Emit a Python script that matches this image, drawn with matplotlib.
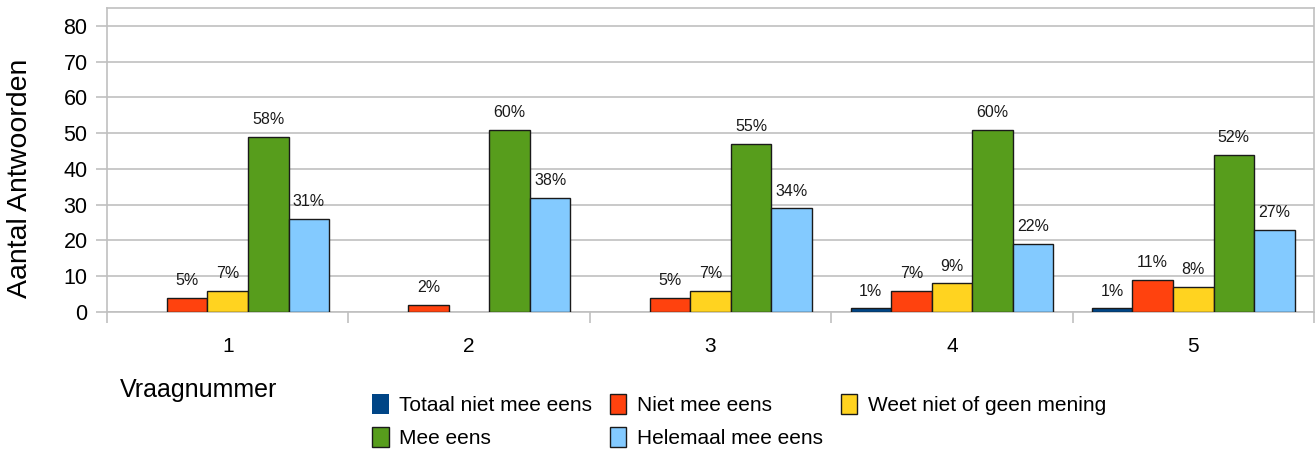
import matplotlib
matplotlib.use("Agg")
import matplotlib.pyplot as plt
import numpy as np

plt.rcParams['font.family'] = ['Liberation Sans', 'DejaVu Sans']

vragen = ['1', '2', '3', '4', '5']
reeksen = ['Totaal niet mee eens', 'Niet mee eens', 'Weet niet of geen mening',
           'Mee eens', 'Helemaal mee eens']
kleuren = ['#004586', '#ff420e', '#ffd320', '#579d1c', '#83caff']

totaal_niet = [0, 0, 0, 1, 1]
niet = [4, 2, 4, 6, 9]
weet_niet = [6, 0, 6, 8, 7]
mee = [49, 51, 47, 51, 44]
helemaal = [26, 32, 29, 19, 23]

pct_totaal_niet = ['', '', '', '1%', '1%']
pct_niet = ['5%', '2%', '5%', '7%', '11%']
pct_weet_niet = ['7%', '', '7%', '9%', '8%']
pct_mee = ['58%', '60%', '55%', '60%', '52%']
pct_helemaal = ['31%', '38%', '34%', '22%', '27%']

waarden = [totaal_niet, niet, weet_niet, mee, helemaal]
labels = [pct_totaal_niet, pct_niet, pct_weet_niet, pct_mee, pct_helemaal]

fig = plt.figure(figsize=(13.16, 4.5), dpi=100)
ax = fig.add_axes([107/1316, 1 - 312/450, (1314-107)/1316, (312-8)/450])

x = np.arange(len(vragen))
w = 0.168
grid_c = '#c0c0c0'

handles = []
for i, (vals, lbl) in enumerate(zip(waarden, labels)):
    # geen rand tekenen bij lege staven
    lw = [1 if v > 0 else 0 for v in vals]
    bars = ax.bar(x + (i - 2) * w, vals, w, color=kleuren[i],
                  edgecolor='#1a1a1a', linewidth=lw, zorder=3, label=reeksen[i])
    ax.bar_label(bars, labels=lbl, padding=7, fontsize=11.5, color='#1a1a1a')
    handles.append(bars)

ax.set_xlim(-0.5, 4.5)
ax.set_ylim(0, 85)
ax.set_yticks(range(0, 81, 10))
ax.yaxis.grid(True, color=grid_c, linewidth=1.2, zorder=0)
ax.tick_params(axis='y', length=8, color=grid_c, width=1.2, labelsize=15.5, pad=6)
ax.set_xticks(x)
ax.set_xticklabels(vragen)
ax.set_xticks(np.arange(-0.5, 5, 1), minor=True)
ax.tick_params(axis='x', which='major', length=0, labelsize=15, pad=18)
ax.tick_params(axis='x', which='minor', length=8, color=grid_c, width=1.2)
for s in ax.spines.values():
    s.set_color(grid_c)
    s.set_linewidth(1.2)

ax.set_ylabel('Aantal Antwoorden', fontsize=20.5)
ax.yaxis.set_label_coords(-74/1207, 0.44)
fig.text(120/1316, 1 - 390/450, 'Vraagnummer', fontsize=18, va='center', ha='left')

# volgorde zodat de legenda rij voor rij leest
order = [0, 3, 1, 4, 2]
fig.legend([handles[k] for k in order], [reeksen[k] for k in order],
           ncol=3, loc='upper left', bbox_to_anchor=(372/1316, 1 - 394/450),
           frameon=False, fontsize=15, handlelength=0.8, handleheight=1.1,
           handletextpad=0.5, columnspacing=0.85, labelspacing=0.55,
           borderpad=0, borderaxespad=0)

fig.savefig('out.png', dpi=100)
